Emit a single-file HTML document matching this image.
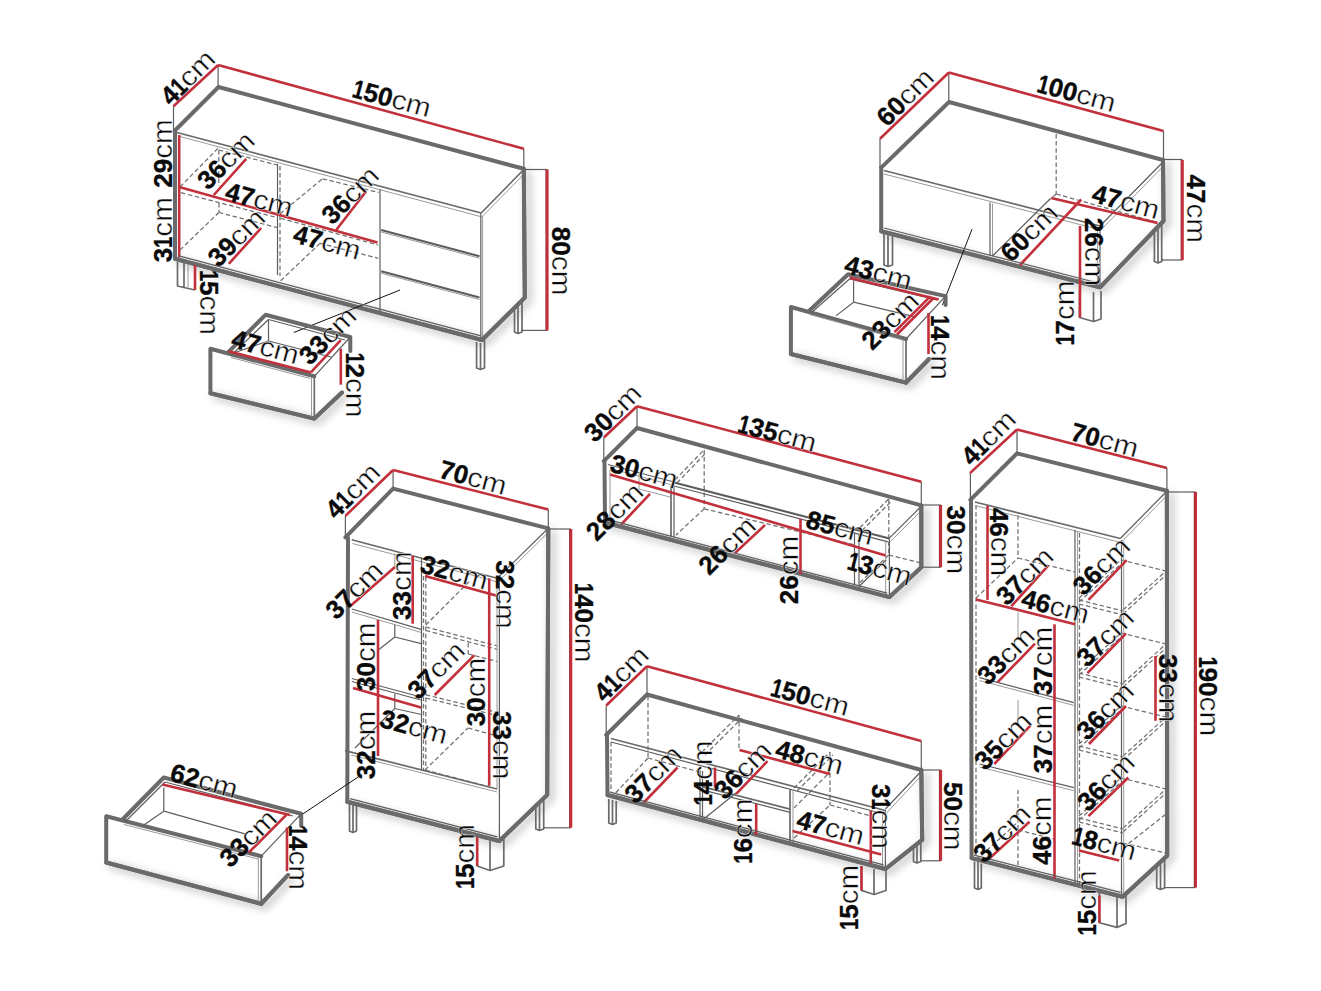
<!DOCTYPE html>
<html><head><meta charset="utf-8"><title>Dimensions</title>
<style>
html,body{margin:0;padding:0;background:#fff;}
svg{display:block}
.ks{filter:drop-shadow(4px 3px 4px rgba(0,0,0,.35));stroke:#6a6a6a;stroke-width:4;fill:none;stroke-linecap:round;stroke-linejoin:round}
.k{stroke:#6a6a6a;stroke-width:4;fill:none;stroke-linecap:round;stroke-linejoin:round}
.n{stroke:#5e5e5e;stroke-width:1.2;fill:none}
.m{stroke:#6a6a6a;stroke-width:1.7;fill:none;stroke-linejoin:round}
.m2{stroke:#5c5c5c;stroke-width:2.1;fill:none}
.g{stroke:#9a9a9a;stroke-width:1;fill:none}
.d{stroke:#707070;stroke-width:1.25;fill:none;stroke-dasharray:4.5 2.6}
.r{stroke:#c2303b;stroke-width:2.6;fill:none}
.rd{stroke:#8a2832;stroke-width:1.2;fill:none}
.l{stroke:#111;stroke-width:1;fill:none}
.w{fill:#fff;stroke:none}
text{font-family:"Liberation Sans",sans-serif;fill:#0a0a0a}
.b{font-weight:bold;font-size:26px;stroke:#0a0a0a;stroke-width:.35px}
.c{font-size:27px;stroke:#fff;stroke-width:.4px}
</style></head><body>
<svg width="1321" height="991" viewBox="0 0 1321 991">
<rect width="1321" height="991" fill="#fff"/>
<line class="d" x1="218.8" y1="150.0" x2="218.8" y2="186.0"/>
<line class="d" x1="219.0" y1="203.0" x2="219.0" y2="212.0"/>
<line class="d" x1="180.0" y1="187.0" x2="218.8" y2="147.5"/>
<line class="d" x1="218.8" y1="150.0" x2="277.0" y2="165.0"/>
<line class="d" x1="181.0" y1="192.7" x2="276.6" y2="217.5"/>
<line class="d" x1="280.7" y1="218.3" x2="378.2" y2="245.0"/>
<line class="d" x1="180.0" y1="250.0" x2="218.8" y2="212.5"/>
<line class="d" x1="218.8" y1="212.5" x2="277.0" y2="227.5"/>
<line class="d" x1="280.0" y1="213.8" x2="322.5" y2="178.8"/>
<line class="d" x1="322.5" y1="178.8" x2="378.8" y2="192.5"/>
<line class="d" x1="280.7" y1="280.7" x2="320.0" y2="243.3"/>
<line class="d" x1="320.0" y1="243.3" x2="378.2" y2="258.3"/>
<line class="n" x1="277.5" y1="163.8" x2="277.5" y2="275.0"/>
<line class="d" x1="280.0" y1="166.0" x2="280.0" y2="276.0"/>
<line class="m" x1="176.9" y1="132.5" x2="481.2" y2="213.0"/>
<line class="g" x1="180.0" y1="136.5" x2="481.5" y2="216.8"/>
<line class="m" x1="481.2" y1="213.0" x2="523.8" y2="169.5"/>
<line class="g" x1="482.0" y1="216.8" x2="524.5" y2="173.5"/>
<line class="n" x1="480.8" y1="213.0" x2="480.8" y2="339.0"/>
<line class="g" x1="482.6" y1="216.0" x2="482.6" y2="339.0"/>
<line class="n" x1="380.0" y1="189.0" x2="380.0" y2="313.0"/>
<line class="m2" x1="381.2" y1="230.0" x2="479.5" y2="256.2"/>
<line class="m2" x1="381.2" y1="271.2" x2="479.5" y2="297.5"/>
<line class="g" x1="381.2" y1="232.0" x2="479.5" y2="258.2"/>
<line class="g" x1="381.2" y1="273.2" x2="479.5" y2="299.5"/>
<path class="ks" d="M523.8 168.8 L524.8 297.6 L482.0 340.0 L175.0 258.8"/>
<path class="k" d="M174.5 131.0 L218.5 87.0 L523.8 168.8 L524.8 297.6 L482.0 340.0 L175.0 258.8 L175.0 131.0"/>
<path class="m" d="M177.5 262.0 L177.5 286.0 L184.0 287.5 L184.0 263.0"/>
<line class="m" x1="184.0" y1="287.5" x2="195.0" y2="290.0"/>
<line class="g" x1="188.0" y1="264.0" x2="188.0" y2="288.0"/>
<path class="m" d="M514.5 306.0 L514.5 332.0 L518.0 333.5 L522.0 332.0 L522.0 301.0"/>
<line class="m" x1="518.0" y1="306.0" x2="518.0" y2="333.5"/>
<path class="m" d="M476.6 342.0 L476.6 368.0 L480.5 369.5 L484.5 368.0 L484.5 340.0"/>
<line class="m" x1="480.5" y1="343.0" x2="480.5" y2="369.5"/>
<line class="n" x1="173.5" y1="106.2" x2="173.5" y2="130.0"/>
<line class="n" x1="218.1" y1="65.0" x2="218.1" y2="86.2"/>
<line class="n" x1="523.8" y1="148.8" x2="523.8" y2="168.8"/>
<line class="r" x1="173.5" y1="106.2" x2="218.1" y2="65.0"/>
<line class="r" x1="218.1" y1="65.0" x2="523.8" y2="148.8"/>
<line class="n" x1="525.0" y1="169.5" x2="547.5" y2="169.5"/>
<line class="n" x1="521.6" y1="330.4" x2="547.5" y2="330.4"/>
<line class="rd" x1="546.0" y1="169.5" x2="546.0" y2="330.4"/>
<line class="r" x1="547.3" y1="169.5" x2="547.3" y2="330.4"/>
<line class="r" x1="179.2" y1="135.0" x2="179.2" y2="257.5"/>
<line class="r" x1="179.2" y1="187.0" x2="377.5" y2="242.5"/>
<line class="r" x1="246.2" y1="158.8" x2="213.8" y2="195.0"/>
<line class="r" x1="366.2" y1="191.2" x2="336.2" y2="230.0"/>
<line class="r" x1="261.2" y1="228.0" x2="228.8" y2="263.8"/>
<line class="r" x1="195.0" y1="265.0" x2="195.0" y2="290.0"/>
<line class="l" x1="400.0" y1="290.0" x2="293.8" y2="332.5"/>
<path class="ks" d="M210.4 393.2 L314.3 418.6 L342.0 392.5"/>
<path class="k" d="M314.3 376.3 L210.4 348.7 L210.4 393.2 L314.3 418.6 L342.0 392.5"/>
<path class="k" d="M350.3 351.0 L350.3 337.0 L265.5 314.8 L228.0 352.5"/>
<line class="m" x1="314.3" y1="376.3" x2="314.3" y2="418.0"/>
<line class="g" x1="311.5" y1="377.0" x2="311.5" y2="416.5"/>
<line class="n" x1="314.3" y1="376.3" x2="350.3" y2="337.0"/>
<line class="n" x1="268.5" y1="319.5" x2="268.5" y2="341.0"/>
<line class="n" x1="268.5" y1="341.0" x2="232.0" y2="353.5"/>
<line class="n" x1="268.5" y1="341.0" x2="331.0" y2="357.0"/>
<line class="n" x1="231.0" y1="355.5" x2="268.5" y2="319.5"/>
<line class="n" x1="268.5" y1="319.5" x2="345.0" y2="340.0"/>
<line class="g" x1="231.0" y1="357.5" x2="310.0" y2="378.5"/>
<line class="r" x1="228.4" y1="351.3" x2="311.1" y2="372.6"/>
<line class="r" x1="311.1" y1="372.1" x2="340.8" y2="340.2"/>
<line class="r" x1="340.8" y1="348.7" x2="340.8" y2="384.7"/>
<line class="d" x1="1056.2" y1="134.0" x2="1056.2" y2="194.0"/>
<line class="d" x1="1056.2" y1="194.0" x2="1157.5" y2="222.5"/>
<line class="d" x1="1056.2" y1="194.0" x2="1049.0" y2="200.0"/>
<line class="m" x1="884.0" y1="170.5" x2="1100.0" y2="226.0"/>
<line class="g" x1="884.0" y1="174.0" x2="1100.0" y2="229.7"/>
<line class="n" x1="1161.5" y1="163.5" x2="1100.0" y2="226.0"/>
<line class="g" x1="1162.0" y1="167.5" x2="1102.0" y2="228.8"/>
<line class="n" x1="990.0" y1="202.5" x2="990.0" y2="255.0"/>
<line class="g" x1="992.5" y1="203.5" x2="992.5" y2="256.0"/>
<line class="n" x1="992.5" y1="256.0" x2="1050.0" y2="199.0"/>
<line class="n" x1="1100.0" y1="227.0" x2="1100.0" y2="286.5"/>
<line class="g" x1="1097.5" y1="229.0" x2="1097.5" y2="285.0"/>
<path class="ks" d="M1163.0 160.0 L1163.5 221.0 L1100.0 287.3 L881.2 231.2"/>
<path class="k" d="M881.2 167.6 L949.0 102.0 L1163.0 160.0 L1163.5 221.0 L1100.0 287.3 L881.2 231.2 L881.2 167.6"/>
<path class="m" d="M884.0 233.0 L884.0 265.0 L888.0 266.5 L892.5 265.0 L892.5 235.0"/>
<line class="m" x1="888.0" y1="234.0" x2="888.0" y2="266.5"/>
<path class="m" d="M1154.4 231.0 L1154.4 261.5 L1158.0 263.0 L1161.7 261.5 L1161.7 224.0"/>
<line class="m" x1="1158.0" y1="229.0" x2="1158.0" y2="263.0"/>
<path class="m" d="M1079.5 290.0 L1079.5 317.5 L1093.5 321.5 L1101.0 319.0 L1101.0 291.0"/>
<line class="m" x1="1093.5" y1="292.0" x2="1093.5" y2="321.5"/>
<line class="n" x1="880.0" y1="138.8" x2="880.0" y2="168.0"/>
<line class="n" x1="948.8" y1="72.5" x2="948.8" y2="101.0"/>
<line class="n" x1="1163.5" y1="131.2" x2="1163.5" y2="160.0"/>
<line class="r" x1="880.0" y1="138.8" x2="948.8" y2="72.5"/>
<line class="r" x1="948.8" y1="72.5" x2="1163.5" y2="131.0"/>
<line class="n" x1="1163.5" y1="159.5" x2="1182.5" y2="159.5"/>
<line class="n" x1="1161.0" y1="260.0" x2="1182.5" y2="260.0"/>
<line class="rd" x1="1181.2" y1="160.0" x2="1181.2" y2="260.0"/>
<line class="r" x1="1182.5" y1="160.0" x2="1182.5" y2="260.0"/>
<line class="r" x1="1051.2" y1="198.0" x2="1157.5" y2="223.0"/>
<line class="r" x1="1081.2" y1="199.5" x2="1020.0" y2="265.0"/>
<line class="r" x1="1080.0" y1="226.0" x2="1080.0" y2="317.5"/>
<line class="l" x1="972.0" y1="229.2" x2="942.5" y2="305.0"/>
<path class="ks" d="M790.9 354.0 L906.0 382.6 L929.0 359.0"/>
<path class="k" d="M906.0 339.0 L790.9 307.0 L790.9 354.0 L906.0 382.6"/>
<line class="m" x1="906.0" y1="339.0" x2="906.0" y2="382.0"/>
<line class="g" x1="903.0" y1="340.0" x2="903.0" y2="380.5"/>
<path class="k" d="M809.0 311.0 L848.1 274.3 L945.6 296.1 L945.6 305.0"/>
<line class="k" x1="906.0" y1="382.6" x2="929.0" y2="359.0"/>
<line class="n" x1="906.0" y1="339.0" x2="945.6" y2="296.1"/>
<line class="n" x1="811.0" y1="313.0" x2="849.5" y2="279.0"/>
<line class="n" x1="849.5" y1="279.0" x2="937.0" y2="300.0"/>
<line class="n" x1="853.6" y1="280.4" x2="853.6" y2="302.2"/>
<line class="n" x1="853.6" y1="302.2" x2="835.9" y2="315.9"/>
<line class="n" x1="853.6" y1="302.2" x2="916.3" y2="317.2"/>
<line class="g" x1="809.5" y1="314.5" x2="903.0" y2="340.0"/>
<line class="r" x1="849.5" y1="277.7" x2="938.7" y2="299.5"/>
<line class="r" x1="930.6" y1="296.1" x2="894.5" y2="332.2"/>
<line class="r" x1="933.0" y1="298.5" x2="897.0" y2="334.5"/>
<line class="r" x1="928.5" y1="313.1" x2="928.5" y2="354.0"/>
<line class="d" x1="675.0" y1="480.0" x2="703.8" y2="450.0"/>
<line class="d" x1="704.2" y1="450.0" x2="704.2" y2="508.8"/>
<line class="d" x1="704.2" y1="508.8" x2="855.0" y2="545.0"/>
<line class="d" x1="704.2" y1="508.8" x2="676.0" y2="535.0"/>
<line class="d" x1="677.0" y1="483.0" x2="705.8" y2="453.0"/>
<line class="d" x1="860.0" y1="527.5" x2="888.8" y2="498.8"/>
<line class="d" x1="888.8" y1="498.8" x2="888.8" y2="555.0"/>
<line class="d" x1="888.8" y1="555.0" x2="921.0" y2="563.0"/>
<line class="d" x1="888.8" y1="555.0" x2="860.0" y2="582.5"/>
<line class="d" x1="862.0" y1="530.5" x2="890.8" y2="501.8"/>
<line class="n" x1="608.0" y1="464.5" x2="674.0" y2="482.0"/>
<line class="m2" x1="674.0" y1="482.5" x2="889.4" y2="538.6"/>
<line class="g" x1="610.0" y1="468.5" x2="674.0" y2="485.5"/>
<line class="n" x1="674.0" y1="486.0" x2="888.0" y2="541.8"/>
<line class="n" x1="889.4" y1="538.1" x2="920.5" y2="507.0"/>
<line class="g" x1="890.5" y1="541.5" x2="921.0" y2="511.0"/>
<line class="n" x1="889.4" y1="538.5" x2="889.4" y2="596.0"/>
<line class="g" x1="885.7" y1="540.0" x2="885.7" y2="595.0"/>
<line class="g" x1="610.0" y1="470.0" x2="610.0" y2="520.0"/>
<line class="g" x1="639.0" y1="473.0" x2="639.0" y2="489.0"/>
<line class="g" x1="639.0" y1="489.0" x2="670.0" y2="497.0"/>
<line class="m" x1="671.0" y1="486.0" x2="671.0" y2="536.0"/>
<line class="n" x1="674.0" y1="487.0" x2="674.0" y2="537.0"/>
<line class="n" x1="854.5" y1="532.6" x2="854.5" y2="585.3"/>
<line class="n" x1="859.0" y1="534.0" x2="859.0" y2="586.5"/>
<line class="n" x1="859.0" y1="586.5" x2="886.0" y2="560.0"/>
<path class="ks" d="M921.3 505.4 L921.3 567.2 L889.4 597.1 L605.0 522.5"/>
<path class="k" d="M603.8 461.2 L637.0 428.0 L921.3 505.4 L921.3 567.2 L889.4 597.1 L605.0 522.5 L604.5 461.2"/>
<line class="n" x1="603.8" y1="437.5" x2="603.8" y2="461.0"/>
<line class="n" x1="637.0" y1="406.2" x2="637.0" y2="428.0"/>
<line class="n" x1="921.3" y1="481.8" x2="921.3" y2="505.0"/>
<line class="r" x1="603.8" y1="437.5" x2="637.0" y2="406.2"/>
<line class="r" x1="637.0" y1="406.2" x2="921.3" y2="481.8"/>
<line class="n" x1="921.3" y1="505.0" x2="940.8" y2="505.0"/>
<line class="n" x1="921.3" y1="567.2" x2="940.8" y2="567.2"/>
<line class="rd" x1="939.5" y1="505.0" x2="939.5" y2="567.2"/>
<line class="r" x1="940.8" y1="505.0" x2="940.8" y2="567.2"/>
<line class="r" x1="610.0" y1="474.5" x2="885.7" y2="555.4"/>
<line class="r" x1="650.0" y1="493.8" x2="621.2" y2="524.5"/>
<line class="r" x1="765.0" y1="525.0" x2="735.0" y2="553.0"/>
<line class="r" x1="800.5" y1="518.8" x2="800.5" y2="573.8"/>
<line class="d" x1="423.5" y1="576.0" x2="423.5" y2="770.0"/>
<line class="d" x1="425.8" y1="577.0" x2="425.8" y2="771.0"/>
<line class="d" x1="425.8" y1="625.0" x2="469.7" y2="581.0"/>
<line class="d" x1="425.8" y1="627.0" x2="497.5" y2="646.0"/>
<line class="d" x1="425.8" y1="630.5" x2="497.5" y2="649.5"/>
<line class="d" x1="468.2" y1="643.0" x2="468.2" y2="654.0"/>
<line class="d" x1="468.2" y1="654.0" x2="497.5" y2="661.5"/>
<line class="d" x1="425.8" y1="694.8" x2="497.5" y2="712.5"/>
<line class="d" x1="425.8" y1="698.0" x2="497.5" y2="715.7"/>
<line class="d" x1="425.0" y1="770.0" x2="468.0" y2="728.0"/>
<line class="d" x1="468.0" y1="728.0" x2="497.0" y2="736.0"/>
<line class="d" x1="425.0" y1="770.0" x2="490.0" y2="787.0"/>
<line class="m" x1="351.8" y1="539.7" x2="497.2" y2="578.3"/>
<line class="g" x1="352.5" y1="543.5" x2="496.0" y2="581.5"/>
<line class="n" x1="497.2" y1="578.3" x2="547.0" y2="529.5"/>
<line class="g" x1="498.5" y1="581.5" x2="547.0" y2="533.5"/>
<line class="n" x1="499.4" y1="580.0" x2="499.4" y2="841.0"/>
<line class="g" x1="497.0" y1="582.0" x2="497.0" y2="789.0"/>
<line class="n" x1="351.8" y1="609.0" x2="421.0" y2="629.4"/>
<line class="g" x1="351.8" y1="612.0" x2="421.0" y2="632.4"/>
<line class="g" x1="394.8" y1="553.6" x2="394.8" y2="567.0"/>
<line class="n" x1="421.5" y1="558.5" x2="421.5" y2="770.0"/>
<line class="n" x1="351.8" y1="678.5" x2="421.0" y2="697.0"/>
<line class="n" x1="351.8" y1="681.5" x2="421.0" y2="700.0"/>
<line class="n" x1="394.8" y1="624.8" x2="394.8" y2="637.0"/>
<line class="n" x1="394.8" y1="637.0" x2="421.3" y2="643.7"/>
<line class="n" x1="394.8" y1="637.0" x2="379.0" y2="649.5"/>
<line class="n" x1="394.8" y1="694.0" x2="394.8" y2="708.5"/>
<line class="n" x1="394.8" y1="708.5" x2="355.0" y2="748.0"/>
<line class="n" x1="394.8" y1="708.5" x2="421.3" y2="714.5"/>
<line class="m" x1="345.0" y1="750.6" x2="497.0" y2="789.0"/>
<line class="g" x1="351.0" y1="755.0" x2="497.0" y2="792.0"/>
<path class="ks" d="M548.3 528.4 L547.2 794.9 L499.4 841.0 L347.3 801.7"/>
<path class="k" d="M345.4 537.4 L393.1 488.6 L548.3 528.4 L547.2 794.9 L499.4 841.0 L347.3 801.7 L348.0 537.4"/>
<path class="m" d="M349.5 804.0 L349.5 831.0 L353.0 832.5 L356.5 831.0 L356.5 805.5"/>
<line class="m" x1="353.0" y1="805.0" x2="353.0" y2="832.5"/>
<path class="m" d="M535.8 805.0 L535.8 829.0 L539.5 830.5 L543.7 829.0 L543.7 799.0"/>
<line class="m" x1="539.5" y1="803.0" x2="539.5" y2="830.5"/>
<path class="m" d="M477.2 837.0 L477.2 866.0 L490.0 870.5 L503.8 866.0 L503.8 838.0"/>
<line class="m" x1="490.0" y1="841.0" x2="490.0" y2="870.5"/>
<line class="n" x1="345.4" y1="515.9" x2="345.4" y2="537.0"/>
<line class="n" x1="393.1" y1="470.0" x2="393.1" y2="488.0"/>
<line class="n" x1="548.3" y1="509.5" x2="548.3" y2="528.0"/>
<line class="r" x1="345.4" y1="515.9" x2="393.1" y2="470.0"/>
<line class="r" x1="393.1" y1="470.0" x2="548.3" y2="509.5"/>
<line class="n" x1="548.3" y1="529.0" x2="571.0" y2="529.0"/>
<line class="n" x1="543.7" y1="827.8" x2="571.0" y2="827.8"/>
<line class="rd" x1="569.7" y1="529.0" x2="569.7" y2="827.8"/>
<line class="r" x1="571.0" y1="529.0" x2="571.0" y2="827.8"/>
<line class="r" x1="349.5" y1="606.7" x2="395.0" y2="567.0"/>
<line class="r" x1="412.7" y1="555.6" x2="412.7" y2="623.7"/>
<line class="r" x1="425.0" y1="576.0" x2="496.0" y2="595.4"/>
<line class="r" x1="489.2" y1="578.3" x2="489.2" y2="785.8"/>
<line class="r" x1="378.0" y1="620.0" x2="378.0" y2="756.0"/>
<line class="r" x1="353.0" y1="688.0" x2="421.0" y2="707.4"/>
<line class="r" x1="474.4" y1="655.2" x2="434.7" y2="695.0"/>
<line class="r" x1="477.2" y1="837.2" x2="477.2" y2="865.9"/>
<line class="l" x1="358.6" y1="776.7" x2="297.5" y2="817.5"/>
<path class="ks" d="M106.2 862.5 L261.2 903.8 L288.0 875.0"/>
<path class="k" d="M261.2 856.2 L106.2 816.2 L106.2 862.5 L261.2 903.8"/>
<line class="m" x1="261.2" y1="856.2" x2="261.2" y2="903.0"/>
<line class="g" x1="258.3" y1="857.5" x2="258.3" y2="901.5"/>
<path class="k" d="M122.0 820.0 L163.8 777.5 L301.2 813.8 L301.2 826.0"/>
<line class="k" x1="261.2" y1="903.8" x2="288.0" y2="875.0"/>
<line class="n" x1="261.2" y1="856.2" x2="301.2" y2="813.8"/>
<line class="n" x1="125.0" y1="822.0" x2="165.0" y2="782.0"/>
<line class="n" x1="165.0" y1="782.0" x2="293.0" y2="816.0"/>
<line class="n" x1="163.8" y1="787.5" x2="163.8" y2="811.2"/>
<line class="n" x1="163.8" y1="811.2" x2="245.0" y2="833.8"/>
<line class="n" x1="163.8" y1="811.2" x2="143.8" y2="825.0"/>
<line class="g" x1="124.0" y1="824.5" x2="258.0" y2="859.0"/>
<line class="r" x1="162.5" y1="784.5" x2="290.0" y2="815.0"/>
<line class="r" x1="286.2" y1="815.0" x2="248.8" y2="852.5"/>
<line class="r" x1="287.0" y1="827.5" x2="287.0" y2="871.2"/>
<line class="d" x1="648.0" y1="696.0" x2="648.0" y2="758.0"/>
<line class="d" x1="611.0" y1="798.0" x2="648.0" y2="758.0"/>
<line class="d" x1="648.0" y1="758.0" x2="700.0" y2="772.0"/>
<line class="d" x1="611.0" y1="742.0" x2="611.0" y2="793.0"/>
<line class="d" x1="702.0" y1="752.0" x2="739.0" y2="715.0"/>
<line class="d" x1="739.0" y1="715.0" x2="739.0" y2="750.0"/>
<line class="d" x1="705.0" y1="755.0" x2="742.0" y2="718.0"/>
<line class="d" x1="794.0" y1="788.0" x2="830.0" y2="752.0"/>
<line class="d" x1="830.0" y1="752.0" x2="830.0" y2="805.0"/>
<line class="d" x1="797.0" y1="791.0" x2="833.0" y2="755.0"/>
<line class="d" x1="794.0" y1="838.0" x2="830.0" y2="805.0"/>
<line class="d" x1="830.0" y1="805.0" x2="871.0" y2="816.0"/>
<line class="d" x1="794.0" y1="808.0" x2="830.0" y2="772.0"/>
<line class="m" x1="611.0" y1="738.5" x2="885.4" y2="810.5"/>
<line class="n" x1="611.0" y1="742.0" x2="884.0" y2="814.0"/>
<line class="n" x1="885.4" y1="809.0" x2="920.5" y2="772.0"/>
<line class="g" x1="886.5" y1="813.0" x2="921.0" y2="776.0"/>
<line class="n" x1="885.4" y1="810.0" x2="885.4" y2="868.0"/>
<line class="g" x1="882.5" y1="813.0" x2="882.5" y2="867.0"/>
<line class="n" x1="700.0" y1="770.0" x2="700.0" y2="819.0"/>
<line class="n" x1="702.5" y1="771.0" x2="702.5" y2="820.0"/>
<line class="n" x1="702.5" y1="820.0" x2="736.0" y2="793.0"/>
<line class="m" x1="702.0" y1="786.6" x2="790.0" y2="809.1"/>
<line class="n" x1="702.0" y1="789.8" x2="790.0" y2="812.3"/>
<line class="m" x1="790.0" y1="790.0" x2="790.0" y2="843.0"/>
<line class="g" x1="793.0" y1="791.0" x2="793.0" y2="844.0"/>
<path class="ks" d="M921.3 770.0 L922.2 839.9 L885.4 869.0 L607.5 795.0"/>
<path class="k" d="M606.2 735.0 L647.0 694.5 L921.3 770.0 L922.2 839.9 L885.4 869.0 L607.5 795.0 L607.0 735.0"/>
<path class="m" d="M608.8 799.0 L608.8 823.0 L612.5 824.5 L616.2 823.0 L616.2 801.0"/>
<line class="m" x1="612.5" y1="800.0" x2="612.5" y2="824.5"/>
<path class="m" d="M913.5 846.0 L913.5 861.5 L917.0 863.0 L920.8 861.5 L920.8 841.0"/>
<line class="m" x1="917.0" y1="844.0" x2="917.0" y2="863.0"/>
<path class="m" d="M861.5 866.0 L861.5 890.4 L874.0 894.5 L886.0 890.5 L886.0 870.0"/>
<line class="m" x1="874.0" y1="869.0" x2="874.0" y2="894.5"/>
<line class="n" x1="606.2" y1="705.5" x2="606.2" y2="735.0"/>
<line class="n" x1="647.0" y1="666.2" x2="647.0" y2="694.0"/>
<line class="n" x1="921.3" y1="740.9" x2="921.3" y2="770.0"/>
<line class="r" x1="606.2" y1="705.5" x2="647.0" y2="666.2"/>
<line class="r" x1="647.0" y1="666.2" x2="921.3" y2="740.9"/>
<line class="n" x1="922.2" y1="770.0" x2="940.8" y2="770.0"/>
<line class="n" x1="920.8" y1="860.8" x2="940.8" y2="860.8"/>
<line class="rd" x1="939.5" y1="770.0" x2="939.5" y2="860.8"/>
<line class="r" x1="940.8" y1="770.0" x2="940.8" y2="860.8"/>
<line class="r" x1="677.5" y1="767.5" x2="643.8" y2="802.5"/>
<line class="r" x1="715.0" y1="767.5" x2="715.0" y2="787.5"/>
<line class="r" x1="739.5" y1="750.0" x2="830.0" y2="774.0"/>
<line class="r" x1="767.5" y1="761.2" x2="736.2" y2="793.8"/>
<line class="r" x1="756.2" y1="803.8" x2="756.2" y2="835.0"/>
<line class="r" x1="792.5" y1="831.0" x2="881.2" y2="854.4"/>
<line class="r" x1="870.8" y1="810.8" x2="870.8" y2="863.5"/>
<line class="r" x1="861.5" y1="866.0" x2="861.5" y2="890.4"/>
<line class="d" x1="976.0" y1="505.0" x2="976.0" y2="856.0"/>
<line class="d" x1="1018.0" y1="515.0" x2="1018.0" y2="558.0"/>
<line class="d" x1="976.0" y1="598.0" x2="1018.0" y2="558.0"/>
<line class="d" x1="1018.0" y1="558.0" x2="1075.0" y2="572.0"/>
<line class="d" x1="1018.0" y1="865.0" x2="1018.0" y2="790.0"/>
<line class="d" x1="1018.0" y1="830.0" x2="1054.0" y2="839.0"/>
<line class="d" x1="976.0" y1="860.0" x2="1018.0" y2="822.0"/>
<line class="d" x1="1079.5" y1="533.0" x2="1079.5" y2="885.0"/>
<line class="d" x1="1079.0" y1="598.0" x2="1121.0" y2="560.0"/>
<line class="d" x1="1079.0" y1="602.0" x2="1121.0" y2="564.0"/>
<line class="d" x1="1121.0" y1="560.0" x2="1166.0" y2="571.0"/>
<line class="d" x1="1123.0" y1="610.0" x2="1166.0" y2="571.0"/>
<line class="d" x1="1079.0" y1="600.0" x2="1123.0" y2="611.0"/>
<line class="d" x1="1123.0" y1="614.0" x2="1166.0" y2="575.0"/>
<line class="d" x1="1079.0" y1="604.0" x2="1123.0" y2="615.0"/>
<line class="d" x1="1079.0" y1="671.0" x2="1121.0" y2="633.0"/>
<line class="d" x1="1079.0" y1="675.0" x2="1121.0" y2="637.0"/>
<line class="d" x1="1121.0" y1="633.0" x2="1166.0" y2="644.0"/>
<line class="d" x1="1123.0" y1="683.0" x2="1166.0" y2="644.0"/>
<line class="d" x1="1079.0" y1="673.0" x2="1123.0" y2="684.0"/>
<line class="d" x1="1123.0" y1="687.0" x2="1166.0" y2="648.0"/>
<line class="d" x1="1079.0" y1="677.0" x2="1123.0" y2="688.0"/>
<line class="d" x1="1079.0" y1="744.0" x2="1121.0" y2="706.0"/>
<line class="d" x1="1079.0" y1="748.0" x2="1121.0" y2="710.0"/>
<line class="d" x1="1121.0" y1="706.0" x2="1166.0" y2="717.0"/>
<line class="d" x1="1123.0" y1="756.0" x2="1166.0" y2="717.0"/>
<line class="d" x1="1079.0" y1="746.0" x2="1123.0" y2="757.0"/>
<line class="d" x1="1123.0" y1="760.0" x2="1166.0" y2="721.0"/>
<line class="d" x1="1079.0" y1="750.0" x2="1123.0" y2="761.0"/>
<line class="d" x1="1079.0" y1="816.0" x2="1121.0" y2="778.0"/>
<line class="d" x1="1079.0" y1="820.0" x2="1121.0" y2="782.0"/>
<line class="d" x1="1121.0" y1="778.0" x2="1166.0" y2="789.0"/>
<line class="d" x1="1123.0" y1="828.0" x2="1166.0" y2="789.0"/>
<line class="d" x1="1079.0" y1="818.0" x2="1123.0" y2="829.0"/>
<line class="d" x1="1123.0" y1="832.0" x2="1166.0" y2="793.0"/>
<line class="d" x1="1079.0" y1="822.0" x2="1123.0" y2="833.0"/>
<line class="d" x1="1123.0" y1="843.0" x2="1166.0" y2="853.0"/>
<line class="d" x1="1123.0" y1="848.0" x2="1166.0" y2="814.0"/>
<line class="m" x1="975.0" y1="502.0" x2="1120.3" y2="538.5"/>
<line class="g" x1="975.0" y1="505.5" x2="1119.0" y2="542.0"/>
<line class="n" x1="1120.3" y1="538.5" x2="1166.0" y2="492.0"/>
<line class="g" x1="1121.5" y1="542.0" x2="1166.5" y2="496.0"/>
<line class="n" x1="1121.5" y1="540.0" x2="1121.5" y2="896.0"/>
<line class="g" x1="1123.7" y1="541.0" x2="1123.7" y2="895.0"/>
<line class="n" x1="1075.0" y1="530.0" x2="1075.0" y2="884.0"/>
<line class="g" x1="1077.6" y1="531.0" x2="1077.6" y2="885.0"/>
<line class="n" x1="979.5" y1="677.7" x2="1073.8" y2="702.6"/>
<line class="g" x1="979.5" y1="680.5" x2="1073.8" y2="705.4"/>
<line class="n" x1="979.5" y1="764.0" x2="1073.8" y2="787.7"/>
<line class="g" x1="979.5" y1="767.0" x2="1073.8" y2="790.7"/>
<line class="g" x1="1018.0" y1="612.0" x2="1018.0" y2="640.0"/>
<line class="g" x1="1018.0" y1="700.0" x2="1018.0" y2="722.0"/>
<path class="ks" d="M1166.9 490.8 L1167.2 855.8 L1122.6 896.7 L971.6 858.1"/>
<path class="k" d="M970.4 499.9 L1017.0 453.4 L1166.9 490.8 L1167.2 855.8 L1122.6 896.7 L971.6 858.1 L971.0 499.9"/>
<path class="m" d="M974.5 861.5 L974.5 888.0 L978.0 889.5 L981.3 888.0 L981.3 863.5"/>
<line class="m" x1="978.0" y1="862.0" x2="978.0" y2="889.5"/>
<path class="m" d="M1156.7 866.0 L1156.7 888.0 L1160.5 889.5 L1164.6 888.0 L1164.6 859.0"/>
<line class="m" x1="1160.5" y1="864.0" x2="1160.5" y2="889.5"/>
<path class="m" d="M1099.4 892.0 L1099.4 922.8 L1117.0 927.4 L1126.0 923.5 L1126.0 895.0"/>
<line class="m" x1="1117.0" y1="897.0" x2="1117.0" y2="927.4"/>
<line class="n" x1="970.4" y1="473.1" x2="970.4" y2="499.0"/>
<line class="n" x1="1017.0" y1="429.5" x2="1017.0" y2="453.0"/>
<line class="n" x1="1166.9" y1="468.1" x2="1166.9" y2="490.0"/>
<line class="r" x1="970.0" y1="473.1" x2="1017.0" y2="429.5"/>
<line class="r" x1="1017.0" y1="429.5" x2="1166.9" y2="468.1"/>
<line class="n" x1="1166.9" y1="492.0" x2="1195.7" y2="492.0"/>
<line class="n" x1="1164.6" y1="887.6" x2="1195.7" y2="887.6"/>
<line class="rd" x1="1194.4" y1="492.0" x2="1194.4" y2="887.6"/>
<line class="r" x1="1195.7" y1="492.0" x2="1195.7" y2="887.6"/>
<line class="r" x1="987.5" y1="505.6" x2="987.5" y2="599.9"/>
<line class="r" x1="976.0" y1="599.4" x2="1075.0" y2="624.3"/>
<line class="r" x1="1048.0" y1="565.8" x2="1011.3" y2="606.2"/>
<line class="r" x1="1126.7" y1="560.1" x2="1088.5" y2="599.9"/>
<line class="r" x1="1054.5" y1="624.3" x2="1054.5" y2="878.5"/>
<line class="r" x1="1035.0" y1="643.6" x2="997.7" y2="682.2"/>
<line class="r" x1="1030.6" y1="725.4" x2="994.3" y2="764.0"/>
<line class="r" x1="1126.0" y1="633.4" x2="1087.4" y2="673.1"/>
<line class="r" x1="1126.0" y1="706.0" x2="1089.0" y2="744.0"/>
<line class="r" x1="1128.3" y1="777.5" x2="1088.5" y2="816.1"/>
<line class="r" x1="1155.5" y1="656.0" x2="1155.5" y2="720.8"/>
<line class="r" x1="1029.5" y1="821.8" x2="988.6" y2="859.2"/>
<line class="r" x1="1079.0" y1="850.6" x2="1119.2" y2="860.4"/>
<line class="r" x1="1099.4" y1="895.6" x2="1099.4" y2="922.8"/>
<line class="n" x1="178.0" y1="255.7" x2="480.0" y2="335.7"/>
<line class="n" x1="884.0" y1="228.0" x2="1098.0" y2="283.0"/>
<line class="n" x1="608.0" y1="519.7" x2="887.0" y2="593.2"/>
<line class="n" x1="350.0" y1="798.7" x2="497.5" y2="836.8"/>
<line class="n" x1="610.0" y1="792.2" x2="883.5" y2="864.8"/>
<line class="n" x1="974.0" y1="855.2" x2="1120.5" y2="892.4"/>
<g transform="translate(187.4 77.2) rotate(-45)"><text class="b" y="9.3"><tspan x="-32.6">4</tspan><tspan x="-18.2" textLength="11.3" lengthAdjust="spacingAndGlyphs">1</tspan></text><text class="c" transform="translate(-7.0 9.3) scale(1.1 1)">cm</text></g>
<g transform="translate(392.0 98.2) rotate(15)"><text class="b" y="9.3"><tspan x="-39.9" textLength="11.3" lengthAdjust="spacingAndGlyphs">1</tspan><tspan x="-28.7">5</tspan><tspan x="-14.2">0</tspan></text><text class="c" transform="translate(0.3 9.3) scale(1.1 1)">cm</text></g>
<g transform="translate(163.0 153.5) rotate(-90)"><text class="b" y="9.3"><tspan x="-34.3">2</tspan><tspan x="-19.8">9</tspan></text><text class="c" transform="translate(-5.3 9.3) scale(1.1 1)">cm</text></g>
<g transform="translate(163.0 229.7) rotate(-90)"><text class="b" y="9.3"><tspan x="-32.6">3</tspan><tspan x="-18.2" textLength="11.3" lengthAdjust="spacingAndGlyphs">1</tspan></text><text class="c" transform="translate(-7.0 9.3) scale(1.1 1)">cm</text></g>
<g transform="translate(225.6 160.2) rotate(-45)"><text class="b" y="9.3"><tspan x="-34.3">3</tspan><tspan x="-19.8">6</tspan></text><text class="c" transform="translate(-5.3 9.3) scale(1.1 1)">cm</text></g>
<g transform="translate(259.2 199.3) rotate(15)"><text class="b" y="9.3"><tspan x="-34.3">4</tspan><tspan x="-19.8">7</tspan></text><text class="c" transform="translate(-5.3 9.3) scale(1.1 1)">cm</text></g>
<g transform="translate(350.0 195.0) rotate(-45)"><text class="b" y="9.3"><tspan x="-34.3">3</tspan><tspan x="-19.8">6</tspan></text><text class="c" transform="translate(-5.3 9.3) scale(1.1 1)">cm</text></g>
<g transform="translate(327.2 242.0) rotate(15)"><text class="b" y="9.3"><tspan x="-34.3">4</tspan><tspan x="-19.8">7</tspan></text><text class="c" transform="translate(-5.3 9.3) scale(1.1 1)">cm</text></g>
<g transform="translate(236.2 237.5) rotate(-45)"><text class="b" y="9.3"><tspan x="-34.3">3</tspan><tspan x="-19.8">9</tspan></text><text class="c" transform="translate(-5.3 9.3) scale(1.1 1)">cm</text></g>
<g transform="translate(209.5 302.5) rotate(90)"><text class="b" y="9.3"><tspan x="-32.6" textLength="11.3" lengthAdjust="spacingAndGlyphs">1</tspan><tspan x="-21.4">5</tspan></text><text class="c" transform="translate(-7.0 9.3) scale(1.1 1)">cm</text></g>
<g transform="translate(265.5 346.6) rotate(15)"><text class="b" y="9.3"><tspan x="-34.3">4</tspan><tspan x="-19.8">7</tspan></text><text class="c" transform="translate(-5.3 9.3) scale(1.1 1)">cm</text></g>
<g transform="translate(327.5 335.5) rotate(-45)"><text class="b" y="9.3"><tspan x="-34.3">3</tspan><tspan x="-19.8">3</tspan></text><text class="c" transform="translate(-5.3 9.3) scale(1.1 1)">cm</text></g>
<g transform="translate(355.0 385.0) rotate(90)"><text class="b" y="9.3"><tspan x="-32.6" textLength="11.3" lengthAdjust="spacingAndGlyphs">1</tspan><tspan x="-21.4">2</tspan></text><text class="c" transform="translate(-7.0 9.3) scale(1.1 1)">cm</text></g>
<g transform="translate(561.4 261.1) rotate(90)"><text class="b" y="9.3"><tspan x="-34.3">8</tspan><tspan x="-19.8">0</tspan></text><text class="c" transform="translate(-5.3 9.3) scale(1.1 1)">cm</text></g>
<g transform="translate(905.0 96.8) rotate(-45)"><text class="b" y="9.3"><tspan x="-34.3">6</tspan><tspan x="-19.8">0</tspan></text><text class="c" transform="translate(-5.3 9.3) scale(1.1 1)">cm</text></g>
<g transform="translate(1076.8 93.0) rotate(15)"><text class="b" y="9.3"><tspan x="-39.9" textLength="11.3" lengthAdjust="spacingAndGlyphs">1</tspan><tspan x="-28.7">0</tspan><tspan x="-14.2">0</tspan></text><text class="c" transform="translate(0.3 9.3) scale(1.1 1)">cm</text></g>
<g transform="translate(1126.0 201.5) rotate(15)"><text class="b" y="9.3"><tspan x="-34.3">4</tspan><tspan x="-19.8">7</tspan></text><text class="c" transform="translate(-5.3 9.3) scale(1.1 1)">cm</text></g>
<g transform="translate(1029.0 232.5) rotate(-45)"><text class="b" y="9.3"><tspan x="-34.3">6</tspan><tspan x="-19.8">0</tspan></text><text class="c" transform="translate(-5.3 9.3) scale(1.1 1)">cm</text></g>
<g transform="translate(1094.5 252.0) rotate(90)"><text class="b" y="9.3"><tspan x="-34.3">2</tspan><tspan x="-19.8">6</tspan></text><text class="c" transform="translate(-5.3 9.3) scale(1.1 1)">cm</text></g>
<g transform="translate(1196.2 208.7) rotate(90)"><text class="b" y="9.3"><tspan x="-34.3">4</tspan><tspan x="-19.8">7</tspan></text><text class="c" transform="translate(-5.3 9.3) scale(1.1 1)">cm</text></g>
<g transform="translate(1065.0 313.0) rotate(-90)"><text class="b" y="9.3"><tspan x="-32.6" textLength="11.3" lengthAdjust="spacingAndGlyphs">1</tspan><tspan x="-21.4">7</tspan></text><text class="c" transform="translate(-7.0 9.3) scale(1.1 1)">cm</text></g>
<g transform="translate(878.5 272.5) rotate(15)"><text class="b" y="9.3"><tspan x="-34.3">4</tspan><tspan x="-19.8">3</tspan></text><text class="c" transform="translate(-5.3 9.3) scale(1.1 1)">cm</text></g>
<g transform="translate(890.0 320.5) rotate(-45)"><text class="b" y="9.3"><tspan x="-34.3">2</tspan><tspan x="-19.8">3</tspan></text><text class="c" transform="translate(-5.3 9.3) scale(1.1 1)">cm</text></g>
<g transform="translate(940.0 347.5) rotate(90)"><text class="b" y="9.3"><tspan x="-32.6" textLength="11.3" lengthAdjust="spacingAndGlyphs">1</tspan><tspan x="-21.4">4</tspan></text><text class="c" transform="translate(-7.0 9.3) scale(1.1 1)">cm</text></g>
<g transform="translate(612.5 412.7) rotate(-45)"><text class="b" y="9.3"><tspan x="-34.3">3</tspan><tspan x="-19.8">0</tspan></text><text class="c" transform="translate(-5.3 9.3) scale(1.1 1)">cm</text></g>
<g transform="translate(777.5 433.0) rotate(15)"><text class="b" y="9.3"><tspan x="-39.9" textLength="11.3" lengthAdjust="spacingAndGlyphs">1</tspan><tspan x="-28.7">3</tspan><tspan x="-14.2">5</tspan></text><text class="c" transform="translate(0.3 9.3) scale(1.1 1)">cm</text></g>
<g transform="translate(644.2 471.2) rotate(15)"><text class="b" y="9.3"><tspan x="-34.3">3</tspan><tspan x="-19.8">0</tspan></text><text class="c" transform="translate(-5.3 9.3) scale(1.1 1)">cm</text></g>
<g transform="translate(614.5 511.5) rotate(-45)"><text class="b" y="9.3"><tspan x="-34.3">2</tspan><tspan x="-19.8">8</tspan></text><text class="c" transform="translate(-5.3 9.3) scale(1.1 1)">cm</text></g>
<g transform="translate(726.8 545.5) rotate(-45)"><text class="b" y="9.3"><tspan x="-34.3">2</tspan><tspan x="-19.8">6</tspan></text><text class="c" transform="translate(-5.3 9.3) scale(1.1 1)">cm</text></g>
<g transform="translate(788.3 570.0) rotate(-90)"><text class="b" y="9.3"><tspan x="-34.3">2</tspan><tspan x="-19.8">6</tspan></text><text class="c" transform="translate(-5.3 9.3) scale(1.1 1)">cm</text></g>
<g transform="translate(840.0 527.5) rotate(15)"><text class="b" y="9.3"><tspan x="-34.3">8</tspan><tspan x="-19.8">5</tspan></text><text class="c" transform="translate(-5.3 9.3) scale(1.1 1)">cm</text></g>
<g transform="translate(879.9 568.4) rotate(15)"><text class="b" y="9.3"><tspan x="-32.6" textLength="11.3" lengthAdjust="spacingAndGlyphs">1</tspan><tspan x="-21.4">3</tspan></text><text class="c" transform="translate(-7.0 9.3) scale(1.1 1)">cm</text></g>
<g transform="translate(956.2 539.9) rotate(90)"><text class="b" y="9.3"><tspan x="-34.3">3</tspan><tspan x="-19.8">0</tspan></text><text class="c" transform="translate(-5.3 9.3) scale(1.1 1)">cm</text></g>
<g transform="translate(352.5 490.5) rotate(-45)"><text class="b" y="9.3"><tspan x="-32.6">4</tspan><tspan x="-18.2" textLength="11.3" lengthAdjust="spacingAndGlyphs">1</tspan></text><text class="c" transform="translate(-7.0 9.3) scale(1.1 1)">cm</text></g>
<g transform="translate(473.3 477.2) rotate(15)"><text class="b" y="9.3"><tspan x="-34.3">7</tspan><tspan x="-19.8">0</tspan></text><text class="c" transform="translate(-5.3 9.3) scale(1.1 1)">cm</text></g>
<g transform="translate(354.0 590.0) rotate(-45)"><text class="b" y="9.3"><tspan x="-34.3">3</tspan><tspan x="-19.8">7</tspan></text><text class="c" transform="translate(-5.3 9.3) scale(1.1 1)">cm</text></g>
<g transform="translate(401.8 585.6) rotate(-90)"><text class="b" y="9.3"><tspan x="-34.3">3</tspan><tspan x="-19.8">3</tspan></text><text class="c" transform="translate(-5.3 9.3) scale(1.1 1)">cm</text></g>
<g transform="translate(454.5 572.0) rotate(15)"><text class="b" y="9.3"><tspan x="-34.3">3</tspan><tspan x="-19.8">2</tspan></text><text class="c" transform="translate(-5.3 9.3) scale(1.1 1)">cm</text></g>
<g transform="translate(505.3 594.5) rotate(90)"><text class="b" y="9.3"><tspan x="-34.3">3</tspan><tspan x="-19.8">2</tspan></text><text class="c" transform="translate(-5.3 9.3) scale(1.1 1)">cm</text></g>
<g transform="translate(584.6 622.6) rotate(90)"><text class="b" y="9.3"><tspan x="-39.9" textLength="11.3" lengthAdjust="spacingAndGlyphs">1</tspan><tspan x="-28.7">4</tspan><tspan x="-14.2">0</tspan></text><text class="c" transform="translate(0.3 9.3) scale(1.1 1)">cm</text></g>
<g transform="translate(365.8 656.8) rotate(-90)"><text class="b" y="9.3"><tspan x="-34.3">3</tspan><tspan x="-19.8">0</tspan></text><text class="c" transform="translate(-5.3 9.3) scale(1.1 1)">cm</text></g>
<g transform="translate(365.8 745.0) rotate(-90)"><text class="b" y="9.3"><tspan x="-34.3">3</tspan><tspan x="-19.8">2</tspan></text><text class="c" transform="translate(-5.3 9.3) scale(1.1 1)">cm</text></g>
<g transform="translate(414.0 726.5) rotate(15)"><text class="b" y="9.3"><tspan x="-34.3">3</tspan><tspan x="-19.8">2</tspan></text><text class="c" transform="translate(-5.3 9.3) scale(1.1 1)">cm</text></g>
<g transform="translate(435.8 670.0) rotate(-45)"><text class="b" y="9.3"><tspan x="-34.3">3</tspan><tspan x="-19.8">7</tspan></text><text class="c" transform="translate(-5.3 9.3) scale(1.1 1)">cm</text></g>
<g transform="translate(475.6 692.0) rotate(-90)"><text class="b" y="9.3"><tspan x="-34.3">3</tspan><tspan x="-19.8">0</tspan></text><text class="c" transform="translate(-5.3 9.3) scale(1.1 1)">cm</text></g>
<g transform="translate(502.4 745.2) rotate(90)"><text class="b" y="9.3"><tspan x="-34.3">3</tspan><tspan x="-19.8">3</tspan></text><text class="c" transform="translate(-5.3 9.3) scale(1.1 1)">cm</text></g>
<g transform="translate(464.2 856.5) rotate(-90)"><text class="b" y="9.3"><tspan x="-32.6" textLength="11.3" lengthAdjust="spacingAndGlyphs">1</tspan><tspan x="-21.4">5</tspan></text><text class="c" transform="translate(-7.0 9.3) scale(1.1 1)">cm</text></g>
<g transform="translate(204.2 780.5) rotate(15)"><text class="b" y="9.3"><tspan x="-34.3">6</tspan><tspan x="-19.8">2</tspan></text><text class="c" transform="translate(-5.3 9.3) scale(1.1 1)">cm</text></g>
<g transform="translate(248.0 838.0) rotate(-45)"><text class="b" y="9.3"><tspan x="-34.3">3</tspan><tspan x="-19.8">3</tspan></text><text class="c" transform="translate(-5.3 9.3) scale(1.1 1)">cm</text></g>
<g transform="translate(298.7 857.5) rotate(90)"><text class="b" y="9.3"><tspan x="-32.6" textLength="11.3" lengthAdjust="spacingAndGlyphs">1</tspan><tspan x="-21.4">4</tspan></text><text class="c" transform="translate(-7.0 9.3) scale(1.1 1)">cm</text></g>
<g transform="translate(621.0 673.5) rotate(-45)"><text class="b" y="9.3"><tspan x="-32.6">4</tspan><tspan x="-18.2" textLength="11.3" lengthAdjust="spacingAndGlyphs">1</tspan></text><text class="c" transform="translate(-7.0 9.3) scale(1.1 1)">cm</text></g>
<g transform="translate(810.2 696.8) rotate(15)"><text class="b" y="9.3"><tspan x="-39.9" textLength="11.3" lengthAdjust="spacingAndGlyphs">1</tspan><tspan x="-28.7">5</tspan><tspan x="-14.2">0</tspan></text><text class="c" transform="translate(0.3 9.3) scale(1.1 1)">cm</text></g>
<g transform="translate(653.0 773.8) rotate(-45)"><text class="b" y="9.3"><tspan x="-34.3">3</tspan><tspan x="-19.8">7</tspan></text><text class="c" transform="translate(-5.3 9.3) scale(1.1 1)">cm</text></g>
<g transform="translate(702.5 773.0) rotate(-90)"><text class="b" y="9.3"><tspan x="-32.6" textLength="11.3" lengthAdjust="spacingAndGlyphs">1</tspan><tspan x="-21.4">4</tspan></text><text class="c" transform="translate(-7.0 9.3) scale(1.1 1)">cm</text></g>
<g transform="translate(742.5 770.0) rotate(-45)"><text class="b" y="9.3"><tspan x="-34.3">3</tspan><tspan x="-19.8">6</tspan></text><text class="c" transform="translate(-5.3 9.3) scale(1.1 1)">cm</text></g>
<g transform="translate(809.6 757.0) rotate(15)"><text class="b" y="9.3"><tspan x="-34.3">4</tspan><tspan x="-19.8">8</tspan></text><text class="c" transform="translate(-5.3 9.3) scale(1.1 1)">cm</text></g>
<g transform="translate(742.5 831.2) rotate(-90)"><text class="b" y="9.3"><tspan x="-32.6" textLength="11.3" lengthAdjust="spacingAndGlyphs">1</tspan><tspan x="-21.4">6</tspan></text><text class="c" transform="translate(-7.0 9.3) scale(1.1 1)">cm</text></g>
<g transform="translate(830.8 827.5) rotate(15)"><text class="b" y="9.3"><tspan x="-34.3">4</tspan><tspan x="-19.8">7</tspan></text><text class="c" transform="translate(-5.3 9.3) scale(1.1 1)">cm</text></g>
<g transform="translate(881.0 816.5) rotate(90)"><text class="b" y="9.3"><tspan x="-32.6">3</tspan><tspan x="-18.2" textLength="11.3" lengthAdjust="spacingAndGlyphs">1</tspan></text><text class="c" transform="translate(-7.0 9.3) scale(1.1 1)">cm</text></g>
<g transform="translate(953.5 816.3) rotate(90)"><text class="b" y="9.3"><tspan x="-34.3">5</tspan><tspan x="-19.8">0</tspan></text><text class="c" transform="translate(-5.3 9.3) scale(1.1 1)">cm</text></g>
<g transform="translate(848.5 897.3) rotate(-90)"><text class="b" y="9.3"><tspan x="-32.6" textLength="11.3" lengthAdjust="spacingAndGlyphs">1</tspan><tspan x="-21.4">5</tspan></text><text class="c" transform="translate(-7.0 9.3) scale(1.1 1)">cm</text></g>
<g transform="translate(988.1 437.4) rotate(-45)"><text class="b" y="9.3"><tspan x="-32.6">4</tspan><tspan x="-18.2" textLength="11.3" lengthAdjust="spacingAndGlyphs">1</tspan></text><text class="c" transform="translate(-7.0 9.3) scale(1.1 1)">cm</text></g>
<g transform="translate(1104.9 439.7) rotate(15)"><text class="b" y="9.3"><tspan x="-34.3">7</tspan><tspan x="-19.8">0</tspan></text><text class="c" transform="translate(-5.3 9.3) scale(1.1 1)">cm</text></g>
<g transform="translate(999.8 542.0) rotate(90)"><text class="b" y="9.3"><tspan x="-34.3">4</tspan><tspan x="-19.8">6</tspan></text><text class="c" transform="translate(-5.3 9.3) scale(1.1 1)">cm</text></g>
<g transform="translate(1024.3 576.0) rotate(-45)"><text class="b" y="9.3"><tspan x="-34.3">3</tspan><tspan x="-19.8">7</tspan></text><text class="c" transform="translate(-5.3 9.3) scale(1.1 1)">cm</text></g>
<g transform="translate(1101.2 566.0) rotate(-45)"><text class="b" y="9.3"><tspan x="-34.3">3</tspan><tspan x="-19.8">6</tspan></text><text class="c" transform="translate(-5.3 9.3) scale(1.1 1)">cm</text></g>
<g transform="translate(1055.6 606.1) rotate(15)"><text class="b" y="9.3"><tspan x="-34.3">4</tspan><tspan x="-19.8">6</tspan></text><text class="c" transform="translate(-5.3 9.3) scale(1.1 1)">cm</text></g>
<g transform="translate(1043.1 661.0) rotate(-90)"><text class="b" y="9.3"><tspan x="-34.3">3</tspan><tspan x="-19.8">7</tspan></text><text class="c" transform="translate(-5.3 9.3) scale(1.1 1)">cm</text></g>
<g transform="translate(1043.1 739.0) rotate(-90)"><text class="b" y="9.3"><tspan x="-34.3">3</tspan><tspan x="-19.8">7</tspan></text><text class="c" transform="translate(-5.3 9.3) scale(1.1 1)">cm</text></g>
<g transform="translate(1005.6 655.4) rotate(-45)"><text class="b" y="9.3"><tspan x="-34.3">3</tspan><tspan x="-19.8">3</tspan></text><text class="c" transform="translate(-5.3 9.3) scale(1.1 1)">cm</text></g>
<g transform="translate(1002.7 740.6) rotate(-45)"><text class="b" y="9.3"><tspan x="-34.3">3</tspan><tspan x="-19.8">5</tspan></text><text class="c" transform="translate(-5.3 9.3) scale(1.1 1)">cm</text></g>
<g transform="translate(1105.0 637.5) rotate(-45)"><text class="b" y="9.3"><tspan x="-34.3">3</tspan><tspan x="-19.8">7</tspan></text><text class="c" transform="translate(-5.3 9.3) scale(1.1 1)">cm</text></g>
<g transform="translate(1105.0 710.7) rotate(-45)"><text class="b" y="9.3"><tspan x="-34.3">3</tspan><tspan x="-19.8">6</tspan></text><text class="c" transform="translate(-5.3 9.3) scale(1.1 1)">cm</text></g>
<g transform="translate(1168.0 688.3) rotate(90)"><text class="b" y="9.3"><tspan x="-34.3">3</tspan><tspan x="-19.8">3</tspan></text><text class="c" transform="translate(-5.3 9.3) scale(1.1 1)">cm</text></g>
<g transform="translate(1208.8 696.3) rotate(90)"><text class="b" y="9.3"><tspan x="-39.9" textLength="11.3" lengthAdjust="spacingAndGlyphs">1</tspan><tspan x="-28.7">9</tspan><tspan x="-14.2">0</tspan></text><text class="c" transform="translate(0.3 9.3) scale(1.1 1)">cm</text></g>
<g transform="translate(1105.6 782.0) rotate(-45)"><text class="b" y="9.3"><tspan x="-34.3">3</tspan><tspan x="-19.8">6</tspan></text><text class="c" transform="translate(-5.3 9.3) scale(1.1 1)">cm</text></g>
<g transform="translate(1001.6 833.1) rotate(-45)"><text class="b" y="9.3"><tspan x="-34.3">3</tspan><tspan x="-19.8">7</tspan></text><text class="c" transform="translate(-5.3 9.3) scale(1.1 1)">cm</text></g>
<g transform="translate(1042.0 830.8) rotate(-90)"><text class="b" y="9.3"><tspan x="-34.3">4</tspan><tspan x="-19.8">6</tspan></text><text class="c" transform="translate(-5.3 9.3) scale(1.1 1)">cm</text></g>
<g transform="translate(1104.4 843.3) rotate(15)"><text class="b" y="9.3"><tspan x="-32.6" textLength="11.3" lengthAdjust="spacingAndGlyphs">1</tspan><tspan x="-21.4">8</tspan></text><text class="c" transform="translate(-7.0 9.3) scale(1.1 1)">cm</text></g>
<g transform="translate(1086.3 902.8) rotate(-90)"><text class="b" y="9.3"><tspan x="-32.6" textLength="11.3" lengthAdjust="spacingAndGlyphs">1</tspan><tspan x="-21.4">5</tspan></text><text class="c" transform="translate(-7.0 9.3) scale(1.1 1)">cm</text></g>
</svg>
</body></html>
